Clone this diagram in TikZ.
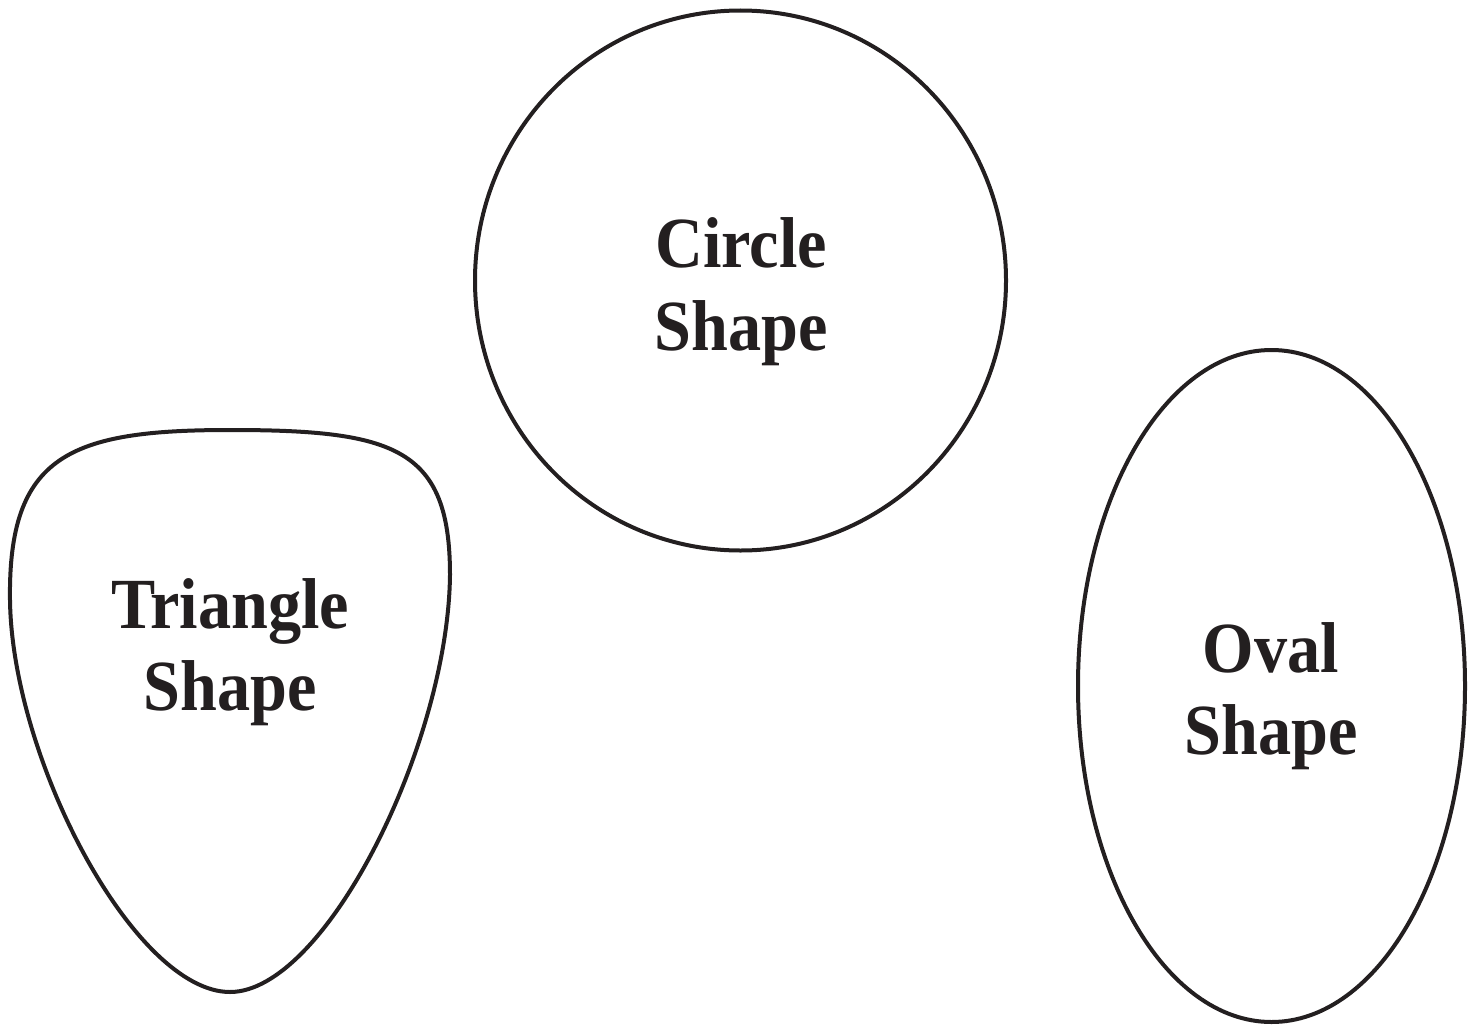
\documentclass[tikz,border=0pt]{standalone}
\usepackage{fontspec}
\newfontfamily\lblfont[FakeStretch=0.92]{Liberation Serif}
\definecolor{ink}{HTML}{231F20}
\tikzset{
  shapeline/.style={draw=ink, line width=4pt},
  lbl/.style={anchor=base, inner sep=0pt, text=ink, font=\lblfont\bfseries\fontsize{72}{82}\selectfont}
}
\begin{document}
\begin{tikzpicture}[x=1pt,y=-1pt]
\useasboundingbox (0,0) rectangle (1475,1025);
% circle
\draw[shapeline] (740.5,280.5) ellipse [x radius=265.5, y radius=270];
% oval
\draw[shapeline] (1271.5,686) ellipse [x radius=193.5, y radius=336];
% rounded triangle
\draw[shapeline] (230,430)
  .. controls (395,430) and (450,448) .. (450,575)
  .. controls (448,745) and (325,992) .. (230,992)
  .. controls (135,992) and (12,760) .. (10,600)
  .. controls (8,455) and (70,430) .. (230,430) -- cycle;
\node[lbl] (c1) at (741,267) {Circle};
\node[lbl] (c2) at (741,350) {Shape};
\node[lbl] (t1) at (230,628) {Triangle};
\node[lbl] (t2) at (230,710) {Shape};
\node[lbl] (o1) at (1271,672) {Oval};
\node[lbl] (o2) at (1271,754) {Shape};
\end{tikzpicture}
\end{document}
